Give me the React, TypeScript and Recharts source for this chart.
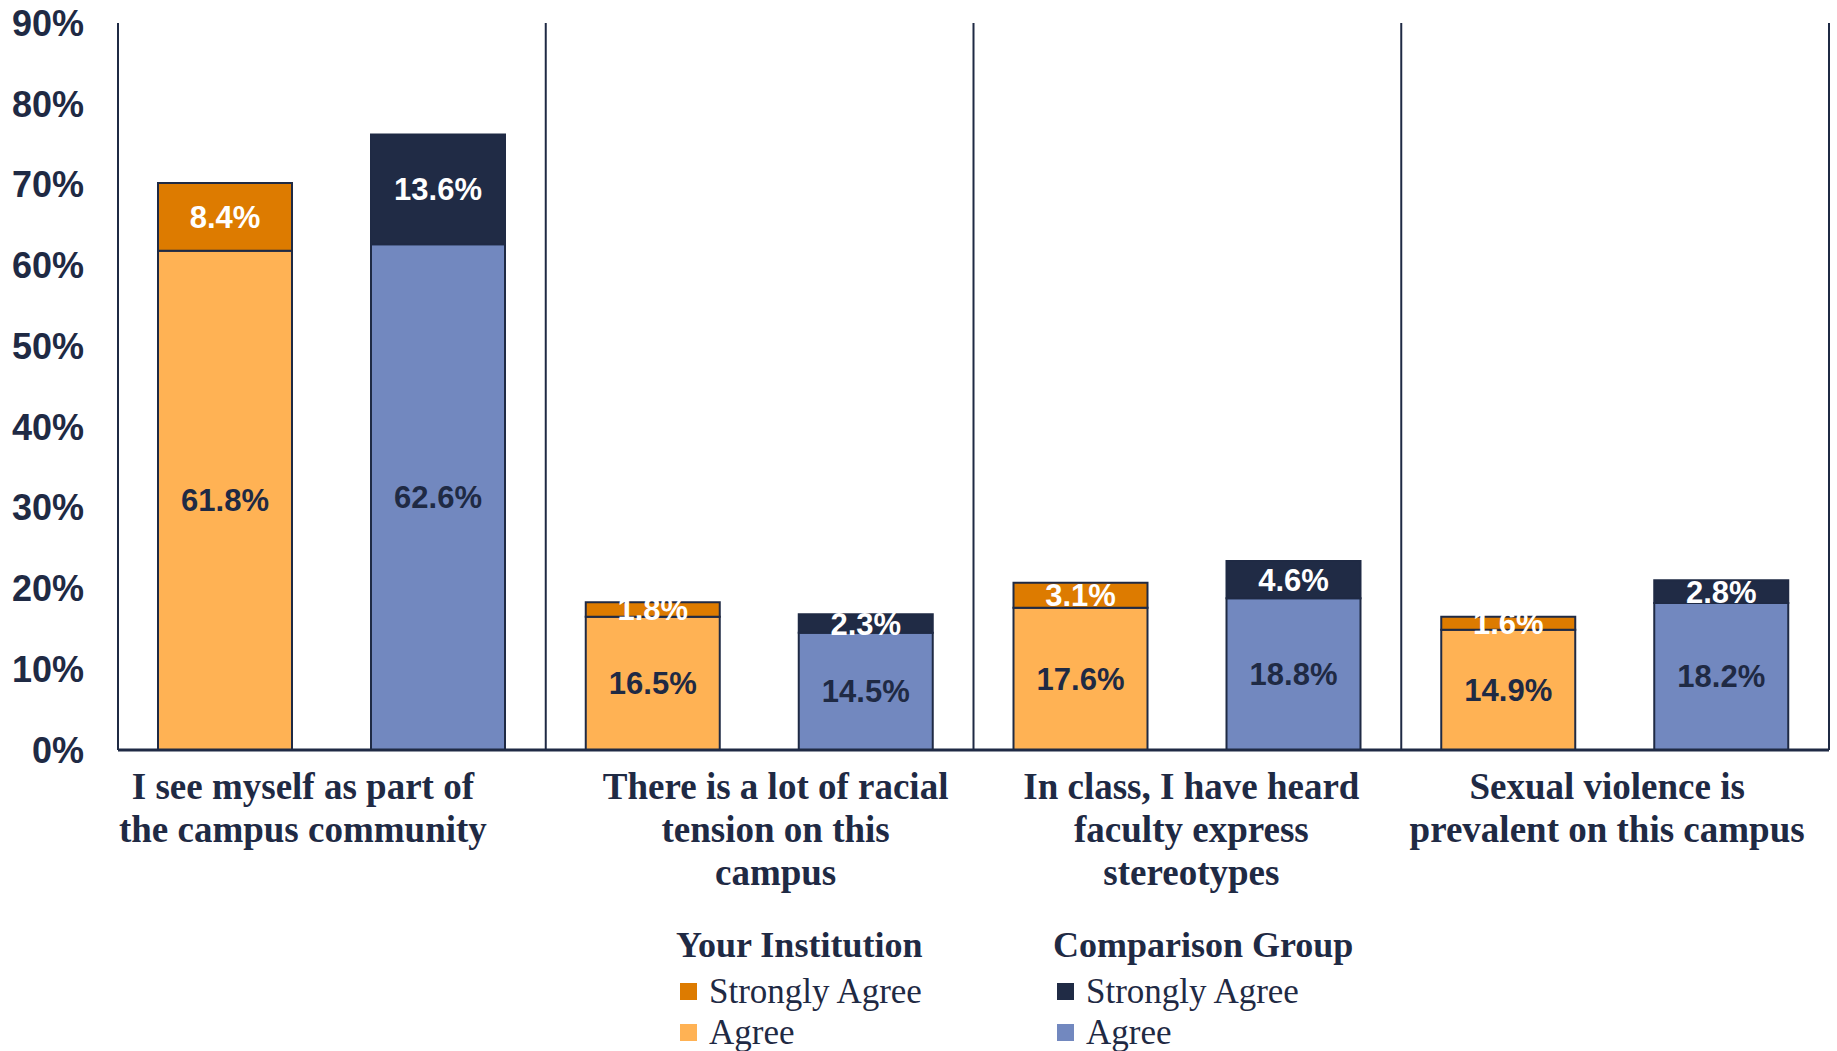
import React from 'react';
import {
  BarChart, Bar, XAxis, YAxis, CartesianGrid, Legend, LabelList,
} from 'recharts';

// Colours
const COLORS = {
  instStrong: '#DD7B00',
  instAgree:  '#FFB254',
  compStrong: '#202B45',
  compAgree:  '#7288BF',
  ink:        '#1F2A44',
  white:      '#FFFFFF',
};

// ---- data ---------------------------------------------------------------
const CATEGORY_LINES = [
  ['I see myself as part of', 'the campus community'],
  ['There is a lot of racial', 'tension on this', 'campus'],
  ['In class, I have heard', 'faculty express', 'stereotypes'],
  ['Sexual violence is', 'prevalent on this campus'],
];
const INST_AGREE  = [61.8, 16.5, 17.6, 14.9];
const INST_STRONG = [8.4, 1.8, 3.1, 1.6];
const COMP_AGREE  = [62.6, 14.5, 18.8, 18.2];
const COMP_STRONG = [13.6, 2.3, 4.6, 2.8];
const Y_TICKS = [0, 10, 20, 30, 40, 50, 60, 70, 80, 90];

const LEGEND_GROUPS = [
  { title: 'Your Institution', items: [
    { name: 'Strongly Agree', color: COLORS.instStrong },
    { name: 'Agree', color: COLORS.instAgree },
  ] },
  { title: 'Comparison Group', items: [
    { name: 'Strongly Agree', color: COLORS.compStrong },
    { name: 'Agree', color: COLORS.compAgree },
  ] },
];

// small horizontal nudges of the category labels (layout only)
const LABEL_NUDGE = [-29, 16, 4, -8];

const data = CATEGORY_LINES.map((lines, i) => ({
  key: `c${i}`,
  instAgree: INST_AGREE[i],
  instStrong: INST_STRONG[i],
  compAgree: COMP_AGREE[i],
  compStrong: COMP_STRONG[i],
}));

const pct = (v: any) => `${Number(v).toFixed(1)}%`;

const labelStyle = (fill: string) => ({
  fill,
  fontSize: 31,
  fontWeight: 700,
  fontFamily: '"Liberation Sans", Arial, sans-serif',
});

function CategoryTick(props: any) {
  const { x, y, index } = props;
  const lines = CATEGORY_LINES[index] || [];
  return (
    <text
      x={x + LABEL_NUDGE[index]}
      y={y}
      textAnchor="middle"
      fill={COLORS.ink}
      fontSize={37}
      fontWeight={700}
      fontFamily='"Liberation Serif", "Times New Roman", serif'
    >
      {lines.map((ln, i) => (
        <tspan key={i} x={x + LABEL_NUDGE[index]} dy={i === 0 ? 41 : 43}>{ln}</tspan>
      ))}
    </text>
  );
}

function LegendBlock() {
  return (
    <div style={{ display: 'flex', fontFamily: '"Liberation Serif", "Times New Roman", serif', color: COLORS.ink }}>
      {LEGEND_GROUPS.map((g, gi) => (
        <div key={gi} style={{ width: gi === 0 ? 377 : 340 }}>
          <div style={{ fontSize: 36, fontWeight: 700, lineHeight: '44px', marginBottom: 4 }}>{g.title}</div>
          {g.items.map((it) => (
            <div key={it.name} style={{ display: 'flex', alignItems: 'center', fontSize: 35, lineHeight: '41px' }}>
              <span style={{ display: 'inline-block', width: 17, height: 17, background: it.color, marginLeft: 4, marginRight: 12 }} />
              {it.name}
            </div>
          ))}
        </div>
      ))}
    </div>
  );
}

export default function App() {
  return (
    <div style={{ position: 'absolute', left: 0, top: 0, width: 1837, height: 1051, background: '#fff' }}>
      <BarChart
        width={1837}
        height={1051}
        data={data}
        margin={{ top: 23, right: 8, left: 0, bottom: 0 }}
        barSize={134}
        barGap={79}
      >
        <CartesianGrid
          horizontal={false}
          stroke={COLORS.ink}
          strokeWidth={2}
          verticalCoordinatesGenerator={({ offset }: any) =>
            [1, 2, 3, 4].map((i) => offset.left + (i * offset.width) / CATEGORY_LINES.length)}
        />
        <XAxis
          dataKey="key"
          interval={0}
          height={301}
          tickLine={false}
          axisLine={{ stroke: COLORS.ink, strokeWidth: 3 }}
          tick={<CategoryTick />}
        />
        <YAxis
          domain={[0, 90]}
          ticks={Y_TICKS}
          width={118}
          tickLine={false}
          tickSize={6}
          tickMargin={28}
          axisLine={{ stroke: COLORS.ink, strokeWidth: 2 }}
          tickFormatter={(v) => `${v}%`}
          tick={{ fill: COLORS.ink, fontSize: 36, fontWeight: 700, fontFamily: '"Liberation Sans", Arial, sans-serif' }}
        />
        <Legend
          layout="horizontal"
          verticalAlign="middle"
          align="center"
          wrapperStyle={{ left: 676, top: 923, width: 760, height: 128 }}
          content={() => <LegendBlock />}
        />
        <Bar dataKey="instAgree" stackId="inst" fill={COLORS.instAgree} stroke={COLORS.ink} strokeWidth={2} isAnimationActive={false}>
          <LabelList dataKey="instAgree" position="center" formatter={pct} style={labelStyle(COLORS.ink)} />
        </Bar>
        <Bar dataKey="instStrong" stackId="inst" fill={COLORS.instStrong} stroke={COLORS.ink} strokeWidth={2} isAnimationActive={false}>
          <LabelList dataKey="instStrong" position="center" formatter={pct} style={labelStyle(COLORS.white)} />
        </Bar>
        <Bar dataKey="compAgree" stackId="comp" fill={COLORS.compAgree} stroke={COLORS.ink} strokeWidth={2} isAnimationActive={false}>
          <LabelList dataKey="compAgree" position="center" formatter={pct} style={labelStyle(COLORS.ink)} />
        </Bar>
        <Bar dataKey="compStrong" stackId="comp" fill={COLORS.compStrong} stroke={COLORS.ink} strokeWidth={2} isAnimationActive={false}>
          <LabelList dataKey="compStrong" position="center" formatter={pct} style={labelStyle(COLORS.white)} />
        </Bar>
      </BarChart>
    </div>
  );
}
